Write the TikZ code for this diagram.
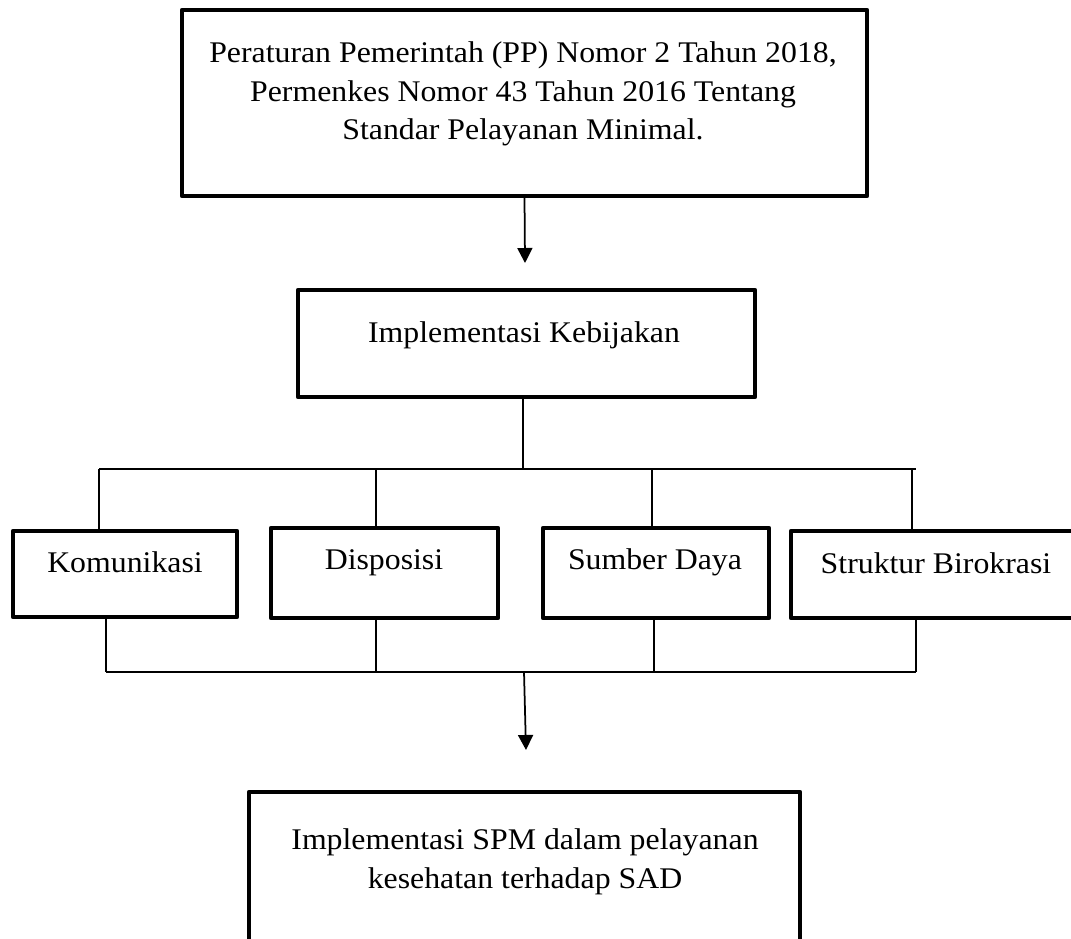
\documentclass[tikz,border=0pt]{standalone}
\usepackage{fontspec}
\setmainfont{Liberation Serif}[FakeStretch=1.06]
\usetikzlibrary{arrows.meta}
\begin{document}
\begin{tikzpicture}[x=0.4pt, y=-0.4pt,
  box/.style={draw, line width=1.7pt, line join=round, inner sep=0pt},
  conn/.style={line width=0.7pt},
  arr/.style={conn, -{Triangle[length=6pt,width=6pt]}},
  txt/.style={inner sep=0pt, align=center, font=\fontsize{12pt}{15.4pt}\selectfont}]
\useasboundingbox (0,0) rectangle (1071,938);
\clip (0,0) rectangle (1071,938);

% boxes
\node[box, minimum width=274pt, minimum height=74.4pt] (b1) at (524.5,103) {};
\node[txt] (t1) at (523,94) {Peraturan Pemerintah (PP) Nomor 2 Tahun 2018,\\Permenkes Nomor 43 Tahun 2016 Tentang\\Standar Pelayanan Minimal.};

\node[box, minimum width=182.8pt, minimum height=42.8pt] (b2) at (526.5,343.5) {};
\node[txt, anchor=base] (t2) at (524,342) {Implementasi Kebijakan};

\node[box, minimum width=89.6pt, minimum height=34.4pt] (k) at (125,574) {};
\node[txt, anchor=base] (tk) at (125,572) {Komunikasi};

\node[box, minimum width=90.8pt, minimum height=36pt] (d) at (384.5,573) {};
\node[txt, anchor=base] (td) at (384,569) {Disposisi};

\node[box, minimum width=90.4pt, minimum height=36pt] (s) at (656,573) {};
\node[txt, anchor=base] (ts) at (655,569) {Sumber Daya};

\node[box, minimum width=116pt, minimum height=34.8pt] (st) at (936,574.5) {};
\node[txt, anchor=base] (tst) at (936,573) {Struktur Birokrasi};

\node[box, minimum width=220.4pt, minimum height=83.2pt] (bb) at (524.5,896) {};
\node[txt] (tb) at (525,862) {Implementasi SPM dalam pelayanan\\kesehatan terhadap SAD};

% junction points
\coordinate (a1) at (525,263);
\coordinate (j1) at (523,469);
\coordinate (uL) at (99,469);
\coordinate (uR) at (916,469);
\coordinate (ud) at (376,469);
\coordinate (us) at (652,469);
\coordinate (ust) at (912,469);
\coordinate (lL) at (106,672);
\coordinate (lR) at (916,672);
\coordinate (ld) at (376,672);
\coordinate (ls) at (654,672);
\coordinate (lc) at (524,672);
\coordinate (a2) at (526,750);

% connectors
\draw[arr] (b1.south) -- (a1);
\draw[conn] (b2.south -| j1) -- (j1);
\draw[conn] (uL) -- (uR);
\draw[conn] (uL) -- (uL |- k.north);
\draw[conn] (ud) -- (ud |- d.north);
\draw[conn] (us) -- (us |- s.north);
\draw[conn] (ust) -- (ust |- st.north);
\draw[conn] (lL |- k.south) -- (lL);
\draw[conn] (ld |- d.south) -- (ld);
\draw[conn] (ls |- s.south) -- (ls);
\draw[conn] (lR |- st.south) -- (lR);
\draw[conn] (lL) -- (lR);
\draw[arr] (lc) -- (a2);
\end{tikzpicture}
\end{document}
